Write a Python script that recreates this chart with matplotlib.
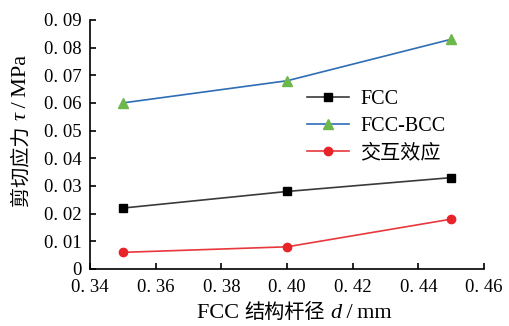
import matplotlib
matplotlib.use("Agg")
import matplotlib.pyplot as plt
from matplotlib.ticker import FuncFormatter

plt.rcParams["font.family"] = ["Liberation Serif", "Noto Sans CJK SC"]

d = [0.35, 0.40, 0.45]
fcc = [0.022, 0.028, 0.033]
fcc_bcc = [0.060, 0.068, 0.083]
interaction = [0.006, 0.008, 0.018]
labels = ["FCC", "FCC-BCC", "交互效应"]
xticks = [0.34, 0.36, 0.38, 0.40, 0.42, 0.44, 0.46]
yticks = [0, 0.01, 0.02, 0.03, 0.04, 0.05, 0.06, 0.07, 0.08, 0.09]


def fmt(v, pos):
    if abs(v) < 1e-9:
        return "0"
    return "0. " + f"{v:.2f}"[2:]


def rich_label(fig, cx, cy, pieces, vertical=False):
    """Place text pieces (text, style, size) one after another, centred on (cx, cy) in pixels."""
    r = fig.canvas.get_renderer()
    rot = 90 if vertical else 0
    texts = []
    for s, style, size in pieces:
        t = fig.text(0, 0, s, fontsize=size, fontstyle=style, rotation=rot,
                     rotation_mode="anchor", ha="left", va="baseline")
        texts.append(t)
    lens = []
    for t in texts:
        bb = t.get_window_extent(r)
        lens.append(bb.height if vertical else bb.width)
    pos = -sum(lens) / 2
    W, H = fig.bbox.width, fig.bbox.height
    for t, L in zip(texts, lens):
        if vertical:
            t.set_position((cx / W, (cy + pos) / H))
        else:
            t.set_position(((cx + pos) / W, cy / H))
        pos += L


fig = plt.figure(figsize=(5.09, 3.26), dpi=100)
ax = fig.add_axes([0.177, 0.175, 0.774, 0.764])

ax.plot(d, fcc, color="#3a3a3a", lw=1.2, marker="s", ms=5.5,
        mfc="black", mec="black", label=labels[0])
ax.plot(d, fcc_bcc, color="#2f6db5", lw=1.2, marker="^", ms=7,
        mfc="#6cb84a", mec="#6cb84a", label=labels[1])
ax.plot(d, interaction, color="#e8383d", lw=1.2, marker="o", ms=6,
        mfc="#e8232a", mec="#e8232a", label=labels[2])

ax.set_xlim(0.34, 0.46)
ax.set_ylim(0, 0.09)
ax.set_xticks(xticks)
ax.set_yticks(yticks)
ax.xaxis.set_major_formatter(FuncFormatter(fmt))
ax.yaxis.set_major_formatter(FuncFormatter(fmt))
ax.tick_params(direction="in", length=4.5, width=1.2, labelsize=13.5)
ax.tick_params(axis="x", pad=7)
ax.tick_params(axis="y", pad=6)

for s in ["top", "right"]:
    ax.spines[s].set_visible(False)
for s in ["left", "bottom"]:
    ax.spines[s].set_linewidth(1.2)

ax.legend(loc="upper left", bbox_to_anchor=(0.505, 0.79), frameon=False,
          fontsize=14.5, handlelength=2.1, labelspacing=0.38, handletextpad=0.55)

# axis titles with italic symbols
rich_label(fig, 294, 326 - 318,
           [("FCC ", "normal", 16), ("结构杆径", "normal", 14.5), (" ", "normal", 16),
            ("d", "italic", 16), ("\u2009/\u2009mm", "normal", 16)])
rich_label(fig, 26, 326 - 130,
           [("剪切应力", "normal", 14.5), (" ", "normal", 16), ("τ", "italic", 16),
            ("\u2009/\u2009MPa", "normal", 16)], vertical=True)

fig.savefig("out.png", dpi=100)
